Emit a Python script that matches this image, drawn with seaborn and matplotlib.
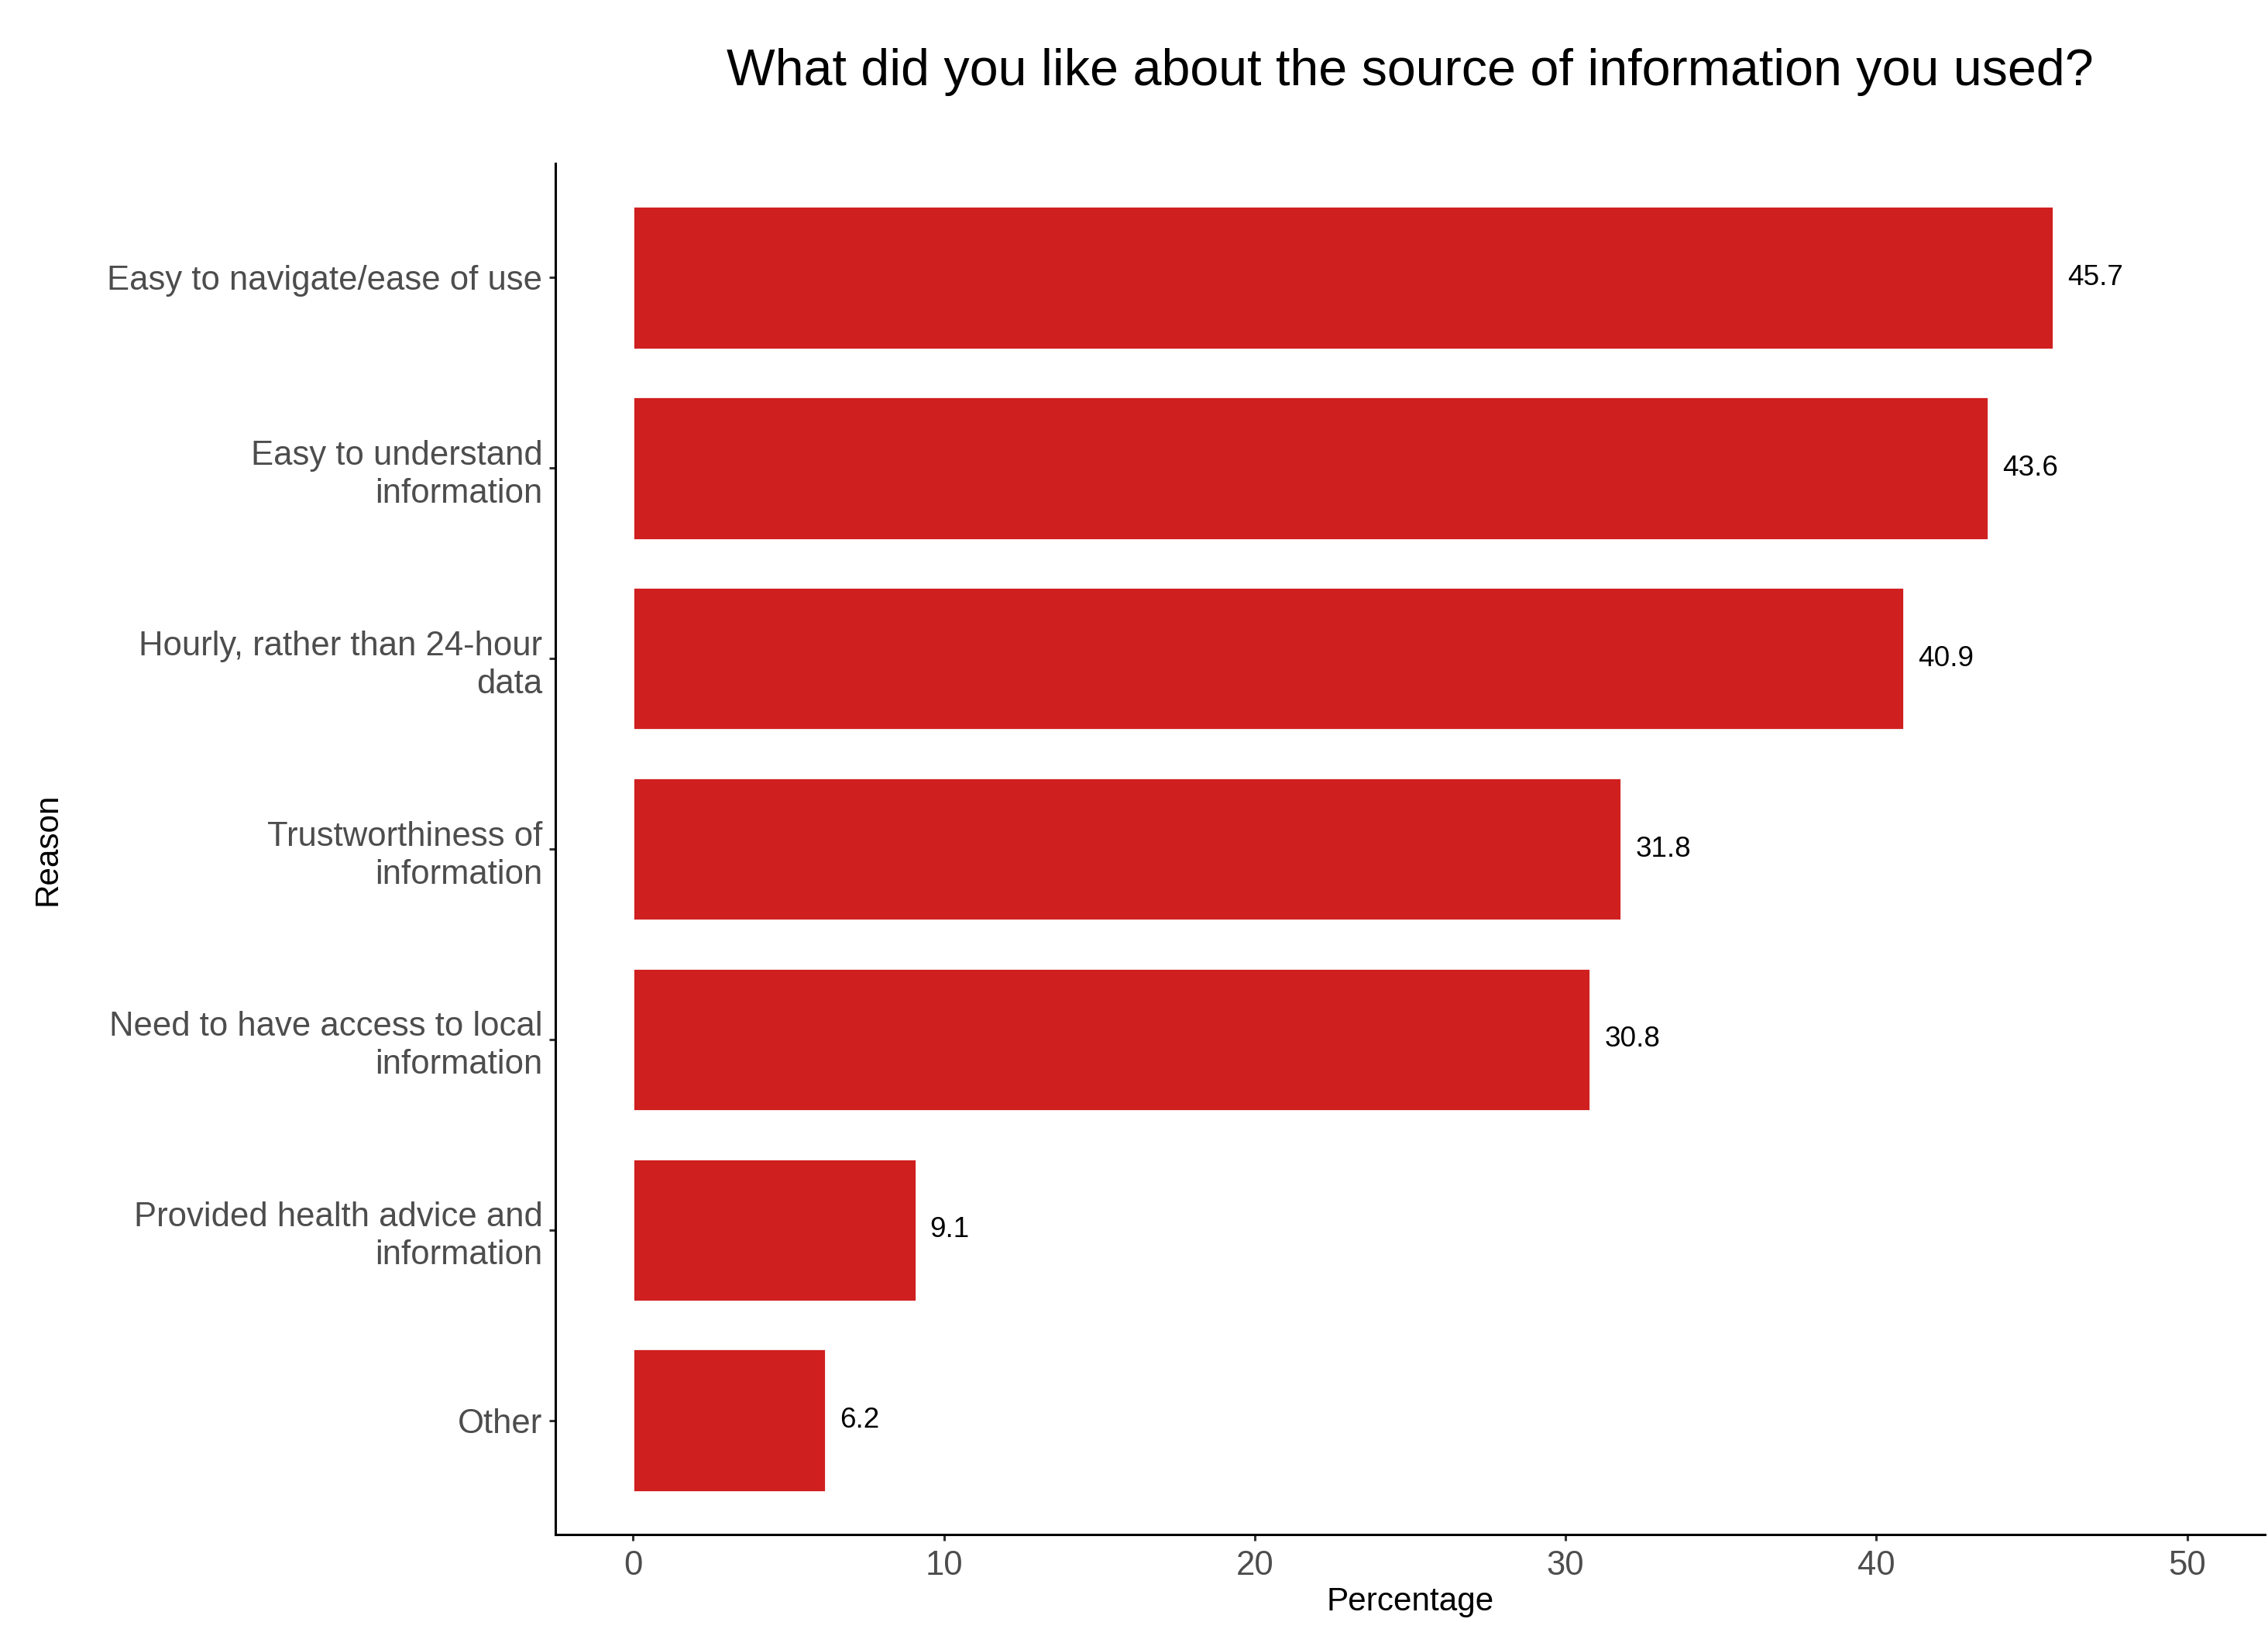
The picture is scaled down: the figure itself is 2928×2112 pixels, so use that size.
import numpy as np
import pandas as pd
import matplotlib
matplotlib.use("Agg")
import matplotlib.pyplot as plt
import seaborn as sns

# data
reasons = [
    "Easy to navigate/ease of use",
    "Easy to understand\ninformation",
    "Hourly, rather than 24-hour\ndata",
    "Trustworthiness of\ninformation",
    "Need to have access to local\ninformation",
    "Provided health advice and\ninformation",
    "Other",
]
percentages = [45.7, 43.6, 40.9, 31.8, 30.8, 9.1, 6.2]
x_ticks = [0, 10, 20, 30, 40, 50]

title = "What did you like about the source of information you used?"
bar_colour = "#D01F1F"

sns.set_style("white")
plt.rcParams["font.family"] = ["Liberation Sans", "DejaVu Sans"]

df = pd.DataFrame({"Reason": reasons, "Percentage": percentages})

fig = plt.figure(figsize=(14.64, 10.56), dpi=200)
ax = fig.add_axes([0.2449, 0.0620, 0.7537, 0.8381])

sns.barplot(data=df, x="Percentage", y="Reason", orient="h",
            color=bar_colour, saturation=1, width=0.75, ax=ax)

ax.set_xlim(-2.5, 52.5)
ax.set_ylim(len(reasons) - 0.4, -0.6)
ax.set_xticks(x_ticks)

# value labels
for cont in ax.containers:
    ax.bar_label(cont, fmt="%.1f", padding=6.5, fontsize=13.3, color="black")

# spines like ggplot theme_classic
for side in ["top", "right"]:
    ax.spines[side].set_visible(False)
for side in ["left", "bottom"]:
    ax.spines[side].set_color("black")
    ax.spines[side].set_linewidth(1.1)

ax.tick_params(axis="both", which="major", bottom=True, left=True,
               length=3, width=1.1, color="#333333", labelcolor="#4D4D4D",
               labelsize=15.7)
ax.tick_params(axis="x", pad=4)
ax.tick_params(axis="y", pad=3)
for lbl in ax.get_yticklabels():
    lbl.set_linespacing(1.25)

ax.set_xlabel("Percentage", fontsize=15.2, color="black")
ax.set_ylabel("Reason", fontsize=15.2, color="black")
ax.xaxis.label.set_va("center")
ax.xaxis.set_label_coords(0.5, -0.049)
ax.yaxis.label.set_va("center")
ax.yaxis.label.set_ha("center")
ax.yaxis.set_label_coords(-0.297, 0.5)

pos = ax.get_position()
fig.text((pos.x0 + pos.x1) / 2, 0.948, title, ha="center", va="baseline",
         fontsize=23.9, color="black")

fig.savefig("out.png", dpi=200, facecolor="white")
